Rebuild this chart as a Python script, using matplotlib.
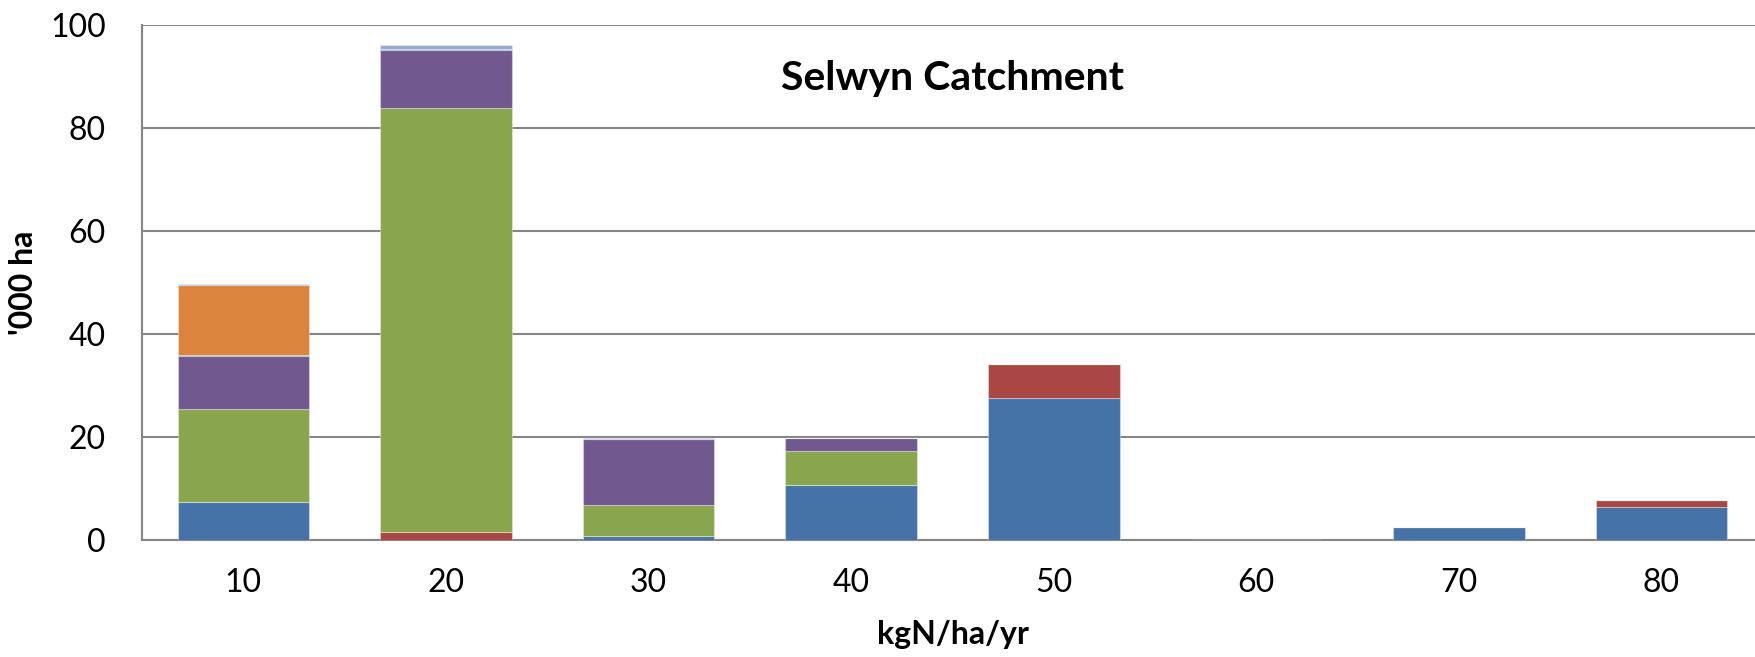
import matplotlib
matplotlib.use("Agg")
import matplotlib.pyplot as plt
import numpy as np

plt.rcParams["font.family"] = ["Lato", "DejaVu Sans"]

# N loss classes (kgN/ha/yr) and area in each class ('000 ha), stacked bottom-up
categories = ["10", "20", "30", "40", "50", "60", "70", "80"]
series_names = ["S1", "S2", "S3", "S4", "S5", "S6", "S7"]
s1 = [7.4, 0.0, 0.7, 10.7, 27.6, 0.0, 2.6, 6.4]
s2 = [0.0, 1.5, 0.0, 0.0, 6.5, 0.0, 0.0, 1.4]
s3 = [18.0, 82.3, 6.1, 6.5, 0.0, 0.0, 0.0, 0.0]
s4 = [10.3, 11.4, 12.9, 2.7, 0.0, 0.0, 0.0, 0.0]
s5 = [0.3, 0.2, 0.0, 0.0, 0.0, 0.0, 0.0, 0.0]
s6 = [13.5, 0.0, 0.0, 0.0, 0.0, 0.0, 0.0, 0.0]
s7 = [0.2, 0.7, 0.1, 0.0, 0.0, 0.0, 0.0, 0.0]
colors = ["#4572A7", "#AA4643", "#89A54E", "#71588F", "#4198AF", "#DB843D", "#93A9CF"]

fig = plt.figure(figsize=(17.56, 6.57), dpi=100)
ax = fig.add_axes([0.0809, 0.178, 0.923, 0.784])

x = np.arange(len(categories))
bottom = np.zeros(len(categories))
for name, vals, c in zip(series_names, [s1, s2, s3, s4, s5, s6, s7], colors):
    vals = np.array(vals)
    ax.bar(x, vals, 0.65, bottom=bottom, color=c, label=name,
           edgecolor=(1, 1, 1, 0.35), linewidth=0.8, zorder=3)
    bottom += vals

ax.set_xlim(-0.5, len(categories) - 0.5)
ax.set_ylim(0, 100)
ax.set_yticks(np.arange(0, 101, 20))
ax.set_xticks(x)
ax.set_xticklabels(categories)
ax.tick_params(axis="both", length=0, labelsize=23)
ax.tick_params(axis="y", pad=26)
ax.tick_params(axis="x", pad=20)

ax.grid(axis="y", color="#868686", linewidth=1.5, zorder=0)
for side in ["top", "right"]:
    ax.spines[side].set_visible(False)
for side in ["left", "bottom"]:
    ax.spines[side].set_color("#868686")
    ax.spines[side].set_linewidth(1.5)

ax.set_ylabel("'000 ha", fontsize=23, fontweight="bold")
ax.yaxis.set_label_coords(-0.064, 0.5)
ax.set_xlabel("kgN/ha/yr", fontsize=23, fontweight="bold", labelpad=16)
ax.text(0.5, 0.897, "Selwyn Catchment", transform=ax.transAxes, ha="center",
        va="center", fontsize=29.5, fontweight="bold")

fig.savefig("out.png", dpi=100)
